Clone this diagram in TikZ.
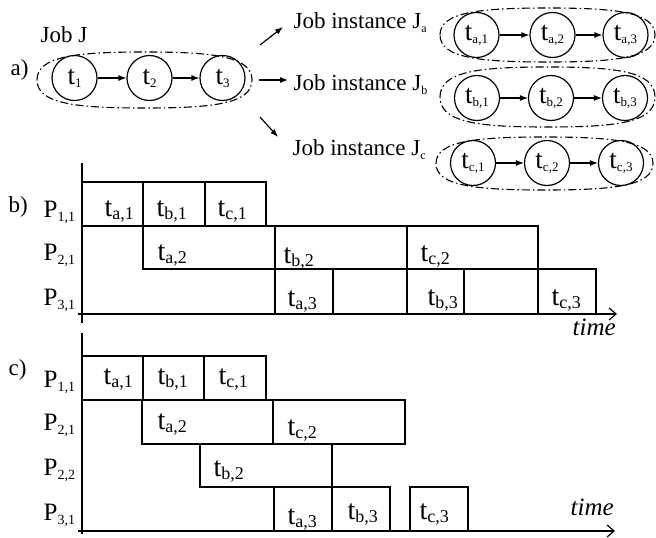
\documentclass[tikz,border=0pt]{standalone}
\usepackage{fontspec}
\setmainfont{Liberation Serif}
\usetikzlibrary{arrows.meta}
\newcommand{\fs}[1]{\fontsize{#1}{#1}\selectfont}
\newcommand{\gsb}[1]{\raisebox{-3.5pt}{\fs{18}#1}}
\newcommand{\csb}[1]{\raisebox{-3pt}{\fs{13}#1}}
\newcommand{\psb}[1]{\raisebox{-4pt}{\fs{14}#1}}
\newcommand{\jsb}[1]{\raisebox{-4pt}{\fs{12}#1}}
\newcommand{\blob}[4]{%
  \draw[grp] (#1,{(#2+#4)/2}) .. controls (#1,{#2+4}) and ({#1+40},#2) .. ({(#1+#3)/2},#2)
    .. controls ({#3-40},#2) and (#3,{#2+4}) .. (#3,{(#2+#4)/2})
    .. controls (#3,{#4-4}) and ({#3-40},#4) .. ({(#1+#3)/2},#4)
    .. controls ({#1+40},#4) and (#1,{#4-4}) .. cycle;}
\begin{document}
\begin{tikzpicture}[x=1pt,y=-1pt,line width=1.2pt,
  tnode/.style={circle,draw,minimum size=45pt,inner sep=0pt,font=\fs{27}},
  grp/.style={dash pattern=on 8pt off 3pt on 1.5pt off 3pt,line width=1.1pt},
  arr/.style={-{Latex[length=8pt,width=6pt]},line width=1.2pt},
  txt/.style={inner sep=0pt,anchor=base west,font=\fs{23}},
  plab/.style={inner sep=0pt,anchor=base west,font=\fs{25}},
  glab/.style={inner sep=0pt,anchor=base west,font=\fs{28}},
  tlab/.style={inner sep=0pt,anchor=base west,font=\fs{25}\itshape},
  axis/.style={-{Straight Barb[length=7pt,width=12pt]},line width=1.2pt},
  gbox/.style={draw,line width=1.2pt}]
\useasboundingbox (0,0) rectangle (656,538);

% ---- part a ----
\node[txt] (la) at (10,75) {a)};
\node[txt] (jobJ) at (40,42) {Job J};
\node[tnode] (t1) at (74.5,78) {t\csb{1}};
\node[tnode] (t2) at (149.5,78) {t\csb{2}};
\node[tnode] (t3) at (222.5,78) {t\csb{3}};
\draw[arr] (t1) -- (t2);
\draw[arr] (t2) -- (t3);
\blob{37}{52}{252}{108}

\node[txt] (Ja) at (293,28) {Job instance J\jsb{a}};
\node[txt] (Jb) at (293,90) {Job instance J\jsb{b}};
\node[txt] (Jc) at (292,155) {Job instance J\jsb{c}};
\coordinate (s1) at (260,45); \coordinate (e1) at (283,27);
\coordinate (s2) at (259,80); \coordinate (e2) at (288,80);
\coordinate (s3) at (260,117); \coordinate (e3) at (278,137);
\draw[arr] (s1) -- (e1);
\draw[arr] (s2) -- (e2);
\draw[arr] (s3) -- (e3);

\node[tnode] (ta1) at (476.5,35) {t\csb{a,1}};
\node[tnode] (ta2) at (552.5,35) {t\csb{a,2}};
\node[tnode] (ta3) at (625.5,35) {t\csb{a,3}};
\draw[arr] (ta1) -- (ta2); \draw[arr] (ta2) -- (ta3);
\blob{440}{8}{655}{62}

\node[tnode] (tb1) at (477,98) {t\csb{b,1}};
\node[tnode] (tb2) at (551,98) {t\csb{b,2}};
\node[tnode] (tb3) at (625,98) {t\csb{b,3}};
\draw[arr] (tb1) -- (tb2); \draw[arr] (tb2) -- (tb3);
\blob{440}{67}{655}{127}

\node[tnode] (tc1) at (473,163) {t\csb{c,1}};
\node[tnode] (tc2) at (547,163) {t\csb{c,2}};
\node[tnode] (tc3) at (621,163) {t\csb{c,3}};
\draw[arr] (tc1) -- (tc2); \draw[arr] (tc2) -- (tc3);
\blob{436}{137}{653}{190}

% ---- part b ----
\node[txt] (lb) at (8,212) {b)};
\draw (82,163) -- (82,323);
\draw[axis] (78,314) -- (617,314);
\draw[gbox] (82,182) rectangle (143,226);
\draw[gbox] (143,182) rectangle (205,226);
\draw[gbox] (205,182) rectangle (266,226);
\draw[gbox] (143,226) rectangle (275,269);
\draw[gbox] (275,226) rectangle (407,269);
\draw[gbox] (407,226) rectangle (538,269);
\draw[gbox] (275,269) rectangle (333,314);
\draw[gbox] (333,269) rectangle (407,314);
\draw[gbox] (407,269) rectangle (464,314);
\draw[gbox] (464,269) rectangle (538,314);
\draw[gbox] (538,269) rectangle (596,314);
\node[plab] (bp11) at (43,217) {P\psb{1,1}};
\node[plab] (bp21) at (43,260) {P\psb{2,1}};
\node[plab] (bp31) at (43,305) {P\psb{3,1}};
\node[glab] (bta1) at (104,216) {t\gsb{a,1}};
\node[glab] (btb1) at (156,216) {t\gsb{b,1}};
\node[glab] (btc1) at (217,216) {t\gsb{c,1}};
\node[glab] (bta2) at (157,260) {t\gsb{a,2}};
\node[glab] (btb2) at (283,263) {t\gsb{b,2}};
\node[glab] (btc2) at (420,261) {t\gsb{c,2}};
\node[glab] (bta3) at (287,306) {t\gsb{a,3}};
\node[glab] (btb3) at (427,305) {t\gsb{b,3}};
\node[glab] (btc3) at (551,305) {t\gsb{c,3}};
\node[tlab] (btime) at (572,335) {time};

% ---- part c ----
\node[txt] (lc) at (8,375) {c)};
\draw (82,333) -- (82,534);
\draw[axis] (78,531) -- (615,531);
\draw[gbox] (82,356) rectangle (143,400);
\draw[gbox] (143,356) rectangle (204,400);
\draw[gbox] (204,356) rectangle (266,400);
\draw[gbox] (142,400) rectangle (273,444);
\draw[gbox] (273,400) rectangle (405,444);
\draw[gbox] (200,444) rectangle (332,487);
\draw[gbox] (274,487) rectangle (332,531);
\draw[gbox] (332,487) rectangle (390,531);
\draw[gbox] (410,487) rectangle (468,531);
\node[plab] (cp11) at (43,387) {P\psb{1,1}};
\node[plab] (cp21) at (43,430) {P\psb{2,1}};
\node[plab] (cp22) at (43,475) {P\psb{2,2}};
\node[plab] (cp31) at (43,520) {P\psb{3,1}};
\node[glab] (cta1) at (103,384) {t\gsb{a,1}};
\node[glab] (ctb1) at (157,384) {t\gsb{b,1}};
\node[glab] (ctc1) at (218,384) {t\gsb{c,1}};
\node[glab] (cta2) at (157,429) {t\gsb{a,2}};
\node[glab] (ctc2) at (287,435) {t\gsb{c,2}};
\node[glab] (ctb2) at (213,476) {t\gsb{b,2}};
\node[glab] (cta3) at (287,524) {t\gsb{a,3}};
\node[glab] (ctb3) at (347,519) {t\gsb{b,3}};
\node[glab] (ctc3) at (419,519) {t\gsb{c,3}};
\node[tlab] (ctime) at (570,515) {time};
\end{tikzpicture}
\end{document}
